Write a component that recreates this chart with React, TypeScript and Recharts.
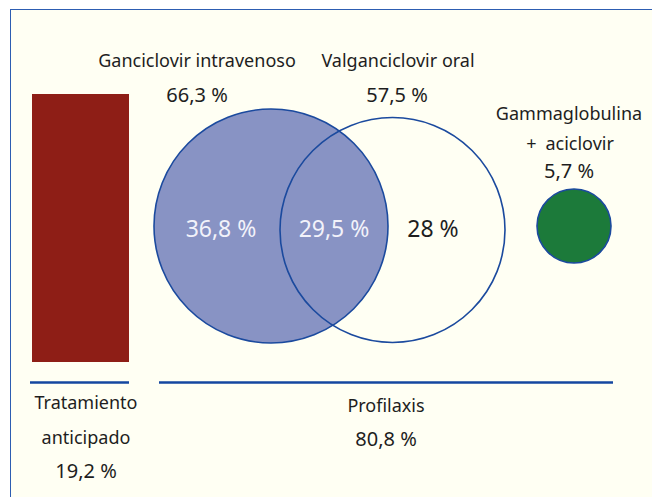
import React from "react";
import {
  ComposedChart,
  XAxis,
  YAxis,
  Scatter,
  ReferenceArea,
  ReferenceLine
} from "recharts";

// Datos del diagrama
const groupNames = ["Ganciclovir intravenoso", "Valganciclovir oral", "Gammaglobulina + aciclovir"];
const groupPercents = [66.3, 57.5, 5.7];
const regionPercents = [36.8, 29.5, 28]; // solo GCV IV, ambos, solo VGC oral
const strategyNames = ["Tratamiento anticipado", "Profilaxis"];
const strategyPercents = [19.2, 80.8];

const W = 652;
const H = 497;
const FONT = "'Noto Sans', 'Open Sans', sans-serif";
const BLUE = "#1447A0";
const INK = "#1E1E1E";

const fmt = (v: number) => `${String(v).replace(".", ",")} %`;

// Layout (coordenadas del lienzo, pasan por las escalas del gráfico)
const circleLayout = [
  { x: 271, y: 226, r: 117, fill: "#8893C4" },
  { x: 392.5, y: 230, r: 112.5, fill: "none" },
  { x: 574, y: 226, r: 37, fill: "#1C7A3A" }
];

const circles = circleLayout.map((c, i) => ({ ...c, name: groupNames[i], value: groupPercents[i] }));

const labels = [
  { x: 197, y: 67, text: groupNames[0], size: 18, color: INK },
  { x: 197, y: 102, text: fmt(groupPercents[0]), size: 20, color: INK },
  { x: 398, y: 67, text: groupNames[1], size: 18, color: INK },
  { x: 397, y: 102, text: fmt(groupPercents[1]), size: 20, color: INK },
  { x: 569, y: 120, text: groupNames[2].split(" + ")[0], size: 18, color: INK },
  { x: 570, y: 150, text: "+\u2002" + groupNames[2].split(" + ")[1], size: 18, color: INK },
  { x: 569, y: 178, text: fmt(groupPercents[2]), size: 20, color: INK },
  { x: 221, y: 237, text: fmt(regionPercents[0]), size: 23, color: "#F2F2FA" },
  { x: 334, y: 237, text: fmt(regionPercents[1]), size: 23, color: "#F2F2FA" },
  { x: 433, y: 237, text: fmt(regionPercents[2]), size: 23, color: INK },
  { x: 86, y: 409, text: strategyNames[0].split(" ")[0], size: 18, color: INK },
  { x: 86, y: 444, text: strategyNames[0].split(" ")[1], size: 18, color: INK },
  { x: 86, y: 478, text: fmt(strategyPercents[0]), size: 20, color: INK },
  { x: 386, y: 412, text: strategyNames[1], size: 18, color: INK },
  { x: 386, y: 446, text: fmt(strategyPercents[1]), size: 20, color: INK }
];

const renderCircle = (props: any) => {
  const { cx, cy, payload } = props;
  return (
    <circle
      cx={cx}
      cy={cy}
      r={payload.r}
      fill={payload.fill}
      stroke="#1B4A9E"
      strokeWidth={1.6}
    />
  );
};

const renderLabel = (props: any) => {
  const { cx, cy, payload } = props;
  return (
    <text
      x={cx}
      y={cy}
      textAnchor="middle"
      fontFamily={FONT}
      fontSize={payload.size}
      fill={payload.color}
      style={{ whiteSpace: "pre" }}
    >
      {payload.text}
    </text>
  );
};

export default function App() {
  return (
    <div style={{ position: "absolute", left: 0, top: 0, width: W, height: H, background: "#fff" }}>
      <div
        style={{
          position: "absolute",
          left: 10,
          top: 9,
          right: 0,
          bottom: 0,
          background: "#FFFFF3",
          borderTop: "1.5px solid #2D5DB2",
          borderLeft: "1.5px solid #2D5DB2"
        }}
      />
      <div style={{ position: "absolute", left: 0, top: 0 }}>
        <ComposedChart width={W} height={H} margin={{ top: 0, right: 0, bottom: 0, left: 0 }}>
          <XAxis type="number" dataKey="x" domain={[0, W]} allowDataOverflow hide />
          <YAxis type="number" dataKey="y" domain={[0, H]} allowDataOverflow reversed hide />
          <ReferenceArea x1={32} x2={129} y1={94} y2={362} fill="#8E1E16" fillOpacity={1} stroke="none" ifOverflow="visible" />
          <ReferenceLine segment={[{ x: 30, y: 382.5 }, { x: 129, y: 382.5 }]} stroke={BLUE} strokeWidth={2.5} ifOverflow="visible" />
          <ReferenceLine segment={[{ x: 159, y: 382.5 }, { x: 613, y: 382.5 }]} stroke={BLUE} strokeWidth={2.5} ifOverflow="visible" />
          <Scatter data={circles} shape={renderCircle} isAnimationActive={false} />
          <Scatter data={labels} shape={renderLabel} isAnimationActive={false} />
        </ComposedChart>
      </div>
    </div>
  );
}
